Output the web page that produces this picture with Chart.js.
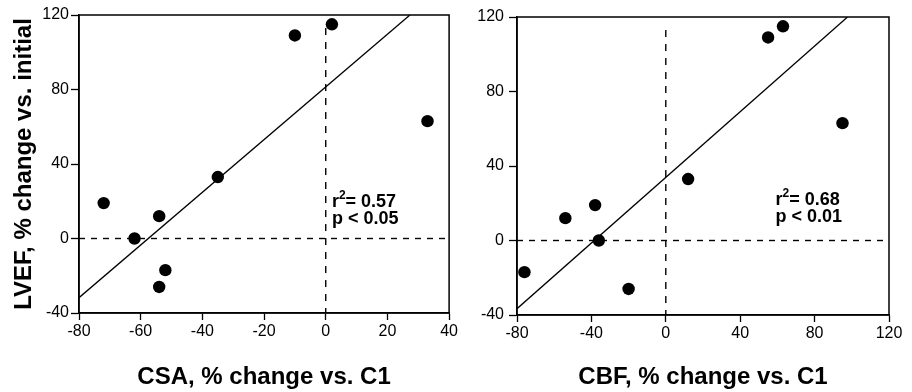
<!DOCTYPE html>
<html>
<head>
<meta charset="utf-8">
<script src="https://cdn.jsdelivr.net/npm/chart.js@4.4.1/dist/chart.umd.min.js"></script>
<style>
  body { margin: 0; background: #fff; }
  #wrap { position: relative; width: 912px; height: 392px; }
  .box { position: absolute; top: 0; height: 392px; }
</style>
</head>
<body>
<div id="wrap">
  <div class="box" style="left:0;width:460px"><canvas id="csaChart"></canvas></div>
  <div class="box" style="left:460px;width:452px"><canvas id="cbfChart"></canvas></div>
</div>
<script>
// LVEF % change, one value per patient (same patients in both panels)
const lvef = [115, 109, 63, 33, 19, 12, 0, -17, -26];
const csa  = [2, -10, 33, -35, -72, -54, -62, -52, -54];
const cbf  = [63, 55, 95, 12, -38, -54, -36, -76, -20];

// regression lines, end points
const csaFitX = [-80, 27.3];
const csaFitY = [-31.8, 120];
const cbfFitX = [-80, 97.7];
const cbfFitY = [-36.6, 120];

const csaStats = ['0.57', '< 0.05'];
const cbfStats = ['0.68', '< 0.01'];

const FONT = '"Liberation Sans", Arial, Helvetica, sans-serif';

const framePlugin = {
  id: 'frame',
  afterDraw(chart, args, opts) {
    const {ctx, chartArea: a, scales} = chart;
    ctx.save();
    ctx.strokeStyle = '#000';
    ctx.lineWidth = 1.5;
    ctx.strokeRect(a.left, a.top, a.right - a.left, a.bottom - a.top);
    // stats text
    const x = scales.x.getPixelForValue(opts.at[0]);
    const y = scales.y.getPixelForValue(opts.at[1]);
    ctx.fillStyle = '#000';
    ctx.textBaseline = 'alphabetic';
    ctx.font = 'bold 18px ' + FONT;
    ctx.fillText('r', x, y);
    let w = ctx.measureText('r').width;
    ctx.font = 'bold 12px ' + FONT;
    ctx.fillText('2', x + w, y - 8);
    w += ctx.measureText('2').width;
    ctx.font = 'bold 18px ' + FONT;
    ctx.fillText('= ' + opts.stats[0], x + w, y);
    ctx.fillText('p ' + opts.stats[1], x, y + 17);
    ctx.restore();
  }
};

function pts(xs, ys) {
  return xs.map((v, i) => ({x: v, y: ys[i]}));
}

function makeChart(id, xs, fitX, fitY, xMin, xMax, xStep, xTitle, g) {
  const ctx = document.getElementById(id).getContext('2d');
  return new Chart(ctx, {
    type: 'scatter',
    data: {
      datasets: [
        {
          data: pts(xs, lvef),
          backgroundColor: '#000',
          borderColor: '#000',
          pointRadius: 6.2,
          pointBorderWidth: 0
        },
        {
          data: pts(fitX, fitY),
          showLine: true,
          borderColor: '#000',
          borderWidth: 1.3,
          pointRadius: 0
        },
        {
          data: pts([xMin, xMax], [0, 0]),
          showLine: true,
          borderColor: '#000',
          borderWidth: 1.4,
          borderDash: [6, 6],
          pointRadius: 0
        },
        {
          data: pts([0, 0], [113, -40]),
          showLine: true,
          borderColor: '#000',
          borderWidth: 1.4,
          borderDash: [7, 7],
          pointRadius: 0
        }
      ]
    },
    options: {
      responsive: true,
      maintainAspectRatio: false,
      animation: false,
      layout: { padding: { top: g.top, right: g.right, left: 0, bottom: 0 } },
      plugins: {
        legend: { display: false },
        tooltip: { enabled: false },
        frame: { at: g.at, stats: g.stats }
      },
      scales: {
        x: {
          type: 'linear',
          min: xMin, max: xMax,
          afterFit: s => { s.height = g.xh; },
          grid: { drawOnChartArea: false, tickLength: 7, tickColor: '#000', tickWidth: 1.3 },
          border: { color: '#000', width: 1.5 },
          ticks: { stepSize: xStep, color: '#000', padding: 2, maxRotation: 0, font: { family: FONT, size: 16 } },
          title: { display: true, text: xTitle, color: '#000', padding: { top: 0, bottom: g.tb },
                   font: { family: FONT, size: 24, weight: 'bold' } }
        },
        y: {
          type: 'linear',
          min: -40, max: 120,
          afterFit: s => { s.width = g.yw; },
          grid: { drawOnChartArea: false, tickLength: 8, tickColor: '#000', tickWidth: 1.3 },
          border: { color: '#000', width: 1.5 },
          ticks: { stepSize: 40, color: '#000', padding: g.yp, font: { family: FONT, size: 16 } },
          title: { display: g.yTitle, text: 'LVEF, % change vs. initial', color: '#000',
                   padding: { top: 10, bottom: 0 },
                   font: { family: FONT, size: 24, weight: 'bold' } }
        }
      }
    },
    plugins: [framePlugin]
  });
}

makeChart('csaChart', csa, csaFitX, csaFitY, -80, 40, 20, 'CSA, % change vs. C1',
  { top: 15, right: 8, xh: 79, yw: 79, yp: 2, tb: 0, yTitle: true, at: [2, 17], stats: csaStats });
makeChart('cbfChart', cbf, cbfFitX, cbfFitY, -80, 120, 40, 'CBF, % change vs. C1',
  { top: 17, right: 23, xh: 77, yw: 57, yp: 5, tb: 0, yTitle: false, at: [59, 19], stats: cbfStats });
</script>
</body>
</html>
